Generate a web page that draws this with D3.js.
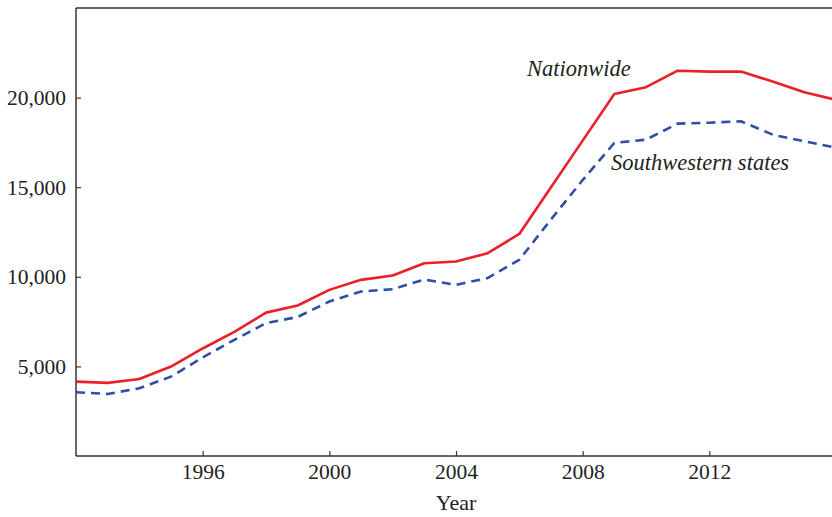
<!DOCTYPE html>
<html>
<head>
<meta charset="utf-8">
<script src="https://cdn.jsdelivr.net/npm/d3@7"></script>
<style>
  html, body { margin: 0; padding: 0; background: #fff; }
  svg { display: block; }
  text { font-family: "Liberation Serif", "Times New Roman", serif; fill: #222; }
</style>
</head>
<body>
<svg id="chart" width="832" height="517"></svg>
<script>
const years = [1992,1993,1994,1995,1996,1997,1998,1999,2000,2001,2002,2003,2004,2005,2006,2007,2008,2009,2010,2011,2012,2013,2014,2015,2016];
const nationwide = [4150,4080,4300,4990,6000,6930,8000,8400,9270,9830,10070,10760,10850,11320,12390,15000,17600,20200,20580,21500,21450,21450,20900,20300,19880];
const southwestern = [3560,3460,3780,4430,5500,6480,7410,7760,8620,9180,9310,9850,9550,9930,10950,13200,15400,17470,17650,18550,18600,18680,17930,17560,17200];
const xTicks = [1996,2000,2004,2008,2012];
const yTicks = [5000,10000,15000,20000];
const seriesLabels = ["Nationwide", "Southwestern states"];
const xTitle = "Year";

const svg = d3.select("#chart");
const x = d3.scaleLinear().domain([1992, 2016]).range([76, 836]);
const y = d3.scaleLinear().domain([0, 25000]).range([456, 8]);

const axisColor = "#333";

// top frame line
svg.append("line")
  .attr("x1", 76).attr("x2", 832)
  .attr("y1", y(25000)).attr("y2", y(25000))
  .attr("stroke", axisColor).attr("stroke-width", 1.5);

const gx = svg.append("g").attr("transform", `translate(0,${y(0)})`)
  .call(d3.axisBottom(x).tickValues(xTicks).tickFormat(d3.format("d"))
    .tickSizeInner(-5).tickSizeOuter(0).tickPadding(8));
const gy = svg.append("g").attr("transform", `translate(${x(1992)},0)`)
  .call(d3.axisLeft(y).tickValues(yTicks).tickFormat(d3.format(",d"))
    .tickSizeInner(-5).tickSizeOuter(0).tickPadding(10));

[gx, gy].forEach(g => {
  g.select(".domain").attr("stroke", axisColor).attr("stroke-width", 1.5);
  g.selectAll(".tick line").attr("stroke", axisColor).attr("stroke-width", 1.2);
  g.selectAll(".tick text")
    .attr("font-family", "'Liberation Serif', 'Times New Roman', serif")
    .attr("font-size", 21.5).attr("fill", "#222");
});
gy.select(".domain").attr("d", `M0,${y(0)}V${y(25000)}`);
gx.select(".domain").attr("d", `M${x(1992)},0H832`);

const line = d3.line().x((d, i) => x(years[i])).y(d => y(d));

svg.append("path").datum(southwestern)
  .attr("d", line).attr("fill", "none")
  .attr("stroke", "#2f4ea6").attr("stroke-width", 2.6)
  .attr("stroke-dasharray", "9,6");

svg.append("path").datum(nationwide)
  .attr("d", line).attr("fill", "none")
  .attr("stroke", "#ec1f29").attr("stroke-width", 2.6)
  .attr("stroke-linejoin", "round");

svg.append("text")
  .attr("x", 527).attr("y", 76)
  .attr("font-size", 22.5).attr("font-style", "italic")
  .text(seriesLabels[0]);

svg.append("text")
  .attr("x", 611).attr("y", 170)
  .attr("font-size", 22.5).attr("font-style", "italic")
  .text(seriesLabels[1]);

svg.append("text")
  .attr("x", 456).attr("y", 510)
  .attr("text-anchor", "middle")
  .attr("font-size", 22)
  .text(xTitle);
</script>
</body>
</html>
